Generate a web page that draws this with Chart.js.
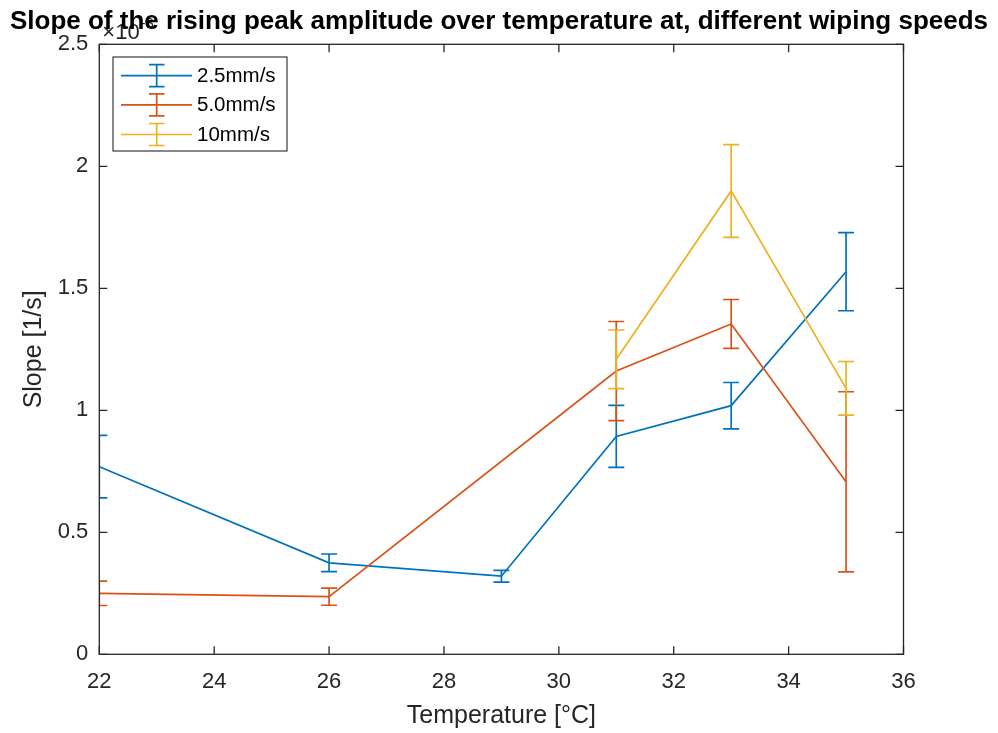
<!DOCTYPE html>
<html><head><meta charset="utf-8">
<script src="https://cdn.jsdelivr.net/npm/chart.js@4"></script>
<style>html,body{margin:0;padding:0;background:#fff;} #wrap{width:998px;height:733px;}</style>
</head><body><div id="wrap"><canvas id="c" width="998" height="733"></canvas></div>
<script>
const chartTitle = 'Slope of the rising peak amplitude over temperature at, different wiping speeds';
const seriesLabels = ['2.5mm/s', '5.0mm/s', '10mm/s'];
const temps25 = [22, 26, 29, 31, 33, 35];
const slope25 = [0.769, 0.375, 0.320, 0.893, 1.019, 1.568];
const err25   = [0.128, 0.036, 0.024, 0.127, 0.095, 0.160];
const temps50 = [22, 26, 31, 33, 35];
const slope50 = [0.250, 0.236, 1.161, 1.354, 0.707];
const err50   = [0.050, 0.035, 0.203, 0.100, 0.369];
const temps10 = [31, 33, 35];
const slope10 = [1.209, 1.899, 1.090];
const err10   = [0.120, 0.190, 0.110];
const xTicks = [22, 24, 26, 28, 30, 32, 34, 36];
const yTicks = [0, 0.5, 1, 1.5, 2, 2.5];
const colors = ['#0072BD', '#D95319', '#EDB120'];
const axisColor = '#262626';
const FONT = "'Liberation Sans', Arial, Helvetica, sans-serif";

function pts(xs, ys) { return xs.map((x, i) => ({x: x, y: ys[i]})); }
const errs = [err25, err50, err10];

const errorBarPlugin = {
  id: 'errorBars',
  afterDatasetDraw(chart, args) {
    const i = args.index;
    const ds = chart.data.datasets[i];
    const e = errs[i];
    const xs = chart.scales.x, ys = chart.scales.y;
    const ctx = chart.ctx, a = chart.chartArea;
    ctx.save();
    ctx.beginPath();
    ctx.rect(a.left, a.top, a.right - a.left, a.bottom - a.top);
    ctx.clip();
    ctx.strokeStyle = ds.borderColor;
    ctx.lineWidth = 1.7;
    ds.data.forEach((p, k) => {
      const px = xs.getPixelForValue(p.x);
      const top = ys.getPixelForValue(p.y + e[k]);
      const bot = ys.getPixelForValue(p.y - e[k]);
      const hw = 8;
      ctx.beginPath();
      ctx.moveTo(px, top); ctx.lineTo(px, bot);
      ctx.moveTo(px - hw, top); ctx.lineTo(px + hw, top);
      ctx.moveTo(px - hw, bot); ctx.lineTo(px + hw, bot);
      ctx.stroke();
    });
    ctx.restore();
  }
};

const axesBoxPlugin = {
  id: 'axesBox',
  afterDatasetsDraw(chart) {
    const ctx = chart.ctx, a = chart.chartArea;
    const xs = chart.scales.x, ys = chart.scales.y;
    ctx.save();
    ctx.strokeStyle = axisColor;
    ctx.lineWidth = 1.3;
    ctx.strokeRect(a.left, a.top, a.right - a.left, a.bottom - a.top);
    const tl = 8;
    ctx.beginPath();
    xTicks.forEach(v => {
      const px = xs.getPixelForValue(v);
      ctx.moveTo(px, a.bottom); ctx.lineTo(px, a.bottom - tl);
      ctx.moveTo(px, a.top); ctx.lineTo(px, a.top + tl);
    });
    yTicks.forEach(v => {
      const py = ys.getPixelForValue(v);
      ctx.moveTo(a.left, py); ctx.lineTo(a.left + tl, py);
      ctx.moveTo(a.right, py); ctx.lineTo(a.right - tl, py);
    });
    ctx.stroke();
    // exponent label
    ctx.fillStyle = axisColor;
    ctx.textBaseline = 'alphabetic';
    ctx.textAlign = 'left';
    ctx.font = "22px " + FONT;
    ctx.fillText('\u00d710', a.left + 3, a.top - 5);
    const w = ctx.measureText('\u00d710').width;
    ctx.font = "15px " + FONT;
    ctx.fillText('-3', a.left + 3 + w + 1, a.top - 16);
    ctx.restore();
  },
  afterDraw(chart) {
    const ctx = chart.ctx;
    ctx.save();
    // title
    ctx.fillStyle = '#000';
    ctx.font = "bold 26px " + FONT;
    ctx.textAlign = 'center';
    ctx.textBaseline = 'alphabetic';
    ctx.fillText(chartTitle, 499, 29);
    // legend
    const bx = 113, by = 57, bw = 174, bh = 94;
    ctx.fillStyle = '#fff';
    ctx.fillRect(bx, by, bw, bh);
    ctx.strokeStyle = axisColor;
    ctx.lineWidth = 1.1;
    ctx.strokeRect(bx, by, bw, bh);
    const rows = [75.7, 104.8, 134.5];
    chart.data.datasets.forEach((ds, i) => {
      const y = rows[i];
      ctx.strokeStyle = ds.borderColor;
      ctx.lineWidth = 1.7;
      ctx.beginPath();
      ctx.moveTo(121, y); ctx.lineTo(192, y);
      ctx.moveTo(156.7, y - 11); ctx.lineTo(156.7, y + 11);
      ctx.moveTo(149, y - 11); ctx.lineTo(164.5, y - 11);
      ctx.moveTo(149, y + 11); ctx.lineTo(164.5, y + 11);
      ctx.stroke();
      ctx.fillStyle = '#000';
      ctx.font = "20.5px " + FONT;
      ctx.textBaseline = 'middle';
      ctx.textAlign = 'left';
      ctx.fillText(ds.label, 197, y + 1);
    });
    ctx.restore();
  }
};

const datasets = [
  {label: seriesLabels[0], data: pts(temps25, slope25), borderColor: colors[0], order: 3},
  {label: seriesLabels[1], data: pts(temps50, slope50), borderColor: colors[1], order: 2},
  {label: seriesLabels[2], data: pts(temps10, slope10), borderColor: colors[2], order: 1}
].map(d => Object.assign(d, {borderWidth: 1.7, pointRadius: 0, tension: 0, fill: false, backgroundColor: d.borderColor}));

new Chart(document.getElementById('c'), {
  type: 'line',
  data: {datasets: datasets},
  options: {
    responsive: false,
    animation: false,
    events: [],
    layout: {padding: {left: 0, right: 94.5, top: 44.3, bottom: 0}},
    plugins: {
      legend: {display: false},
      tooltip: {enabled: false},
      title: {display: false}
    },
    scales: {
      x: {
        type: 'linear', min: 22, max: 36,
        afterBuildTicks: s => { s.ticks = xTicks.map(v => ({value: v})); },
        afterFit: s => { s.height = 78.7; },
        grid: {display: false, drawTicks: false},
        border: {display: false},
        ticks: {color: axisColor, font: {family: FONT, size: 22}, padding: 14, maxRotation: 0, callback: v => String(v)},
        title: {display: true, text: 'Temperature [\u00b0C]', color: axisColor, font: {family: FONT, size: 25}, padding: 2}
      },
      y: {
        type: 'linear', min: 0, max: 2.5,
        afterBuildTicks: s => { s.ticks = yTicks.map(v => ({value: v})); },
        afterFit: s => { s.width = 99.3; },
        grid: {display: false, drawTicks: false},
        border: {display: false},
        ticks: {color: axisColor, font: {family: FONT, size: 22}, padding: 11, callback: v => String(v)},
        title: {display: true, text: 'Slope [1/s]', color: axisColor, font: {family: FONT, size: 25}, padding: 19}
      }
    }
  },
  plugins: [errorBarPlugin, axesBoxPlugin]
});
</script></body></html>
